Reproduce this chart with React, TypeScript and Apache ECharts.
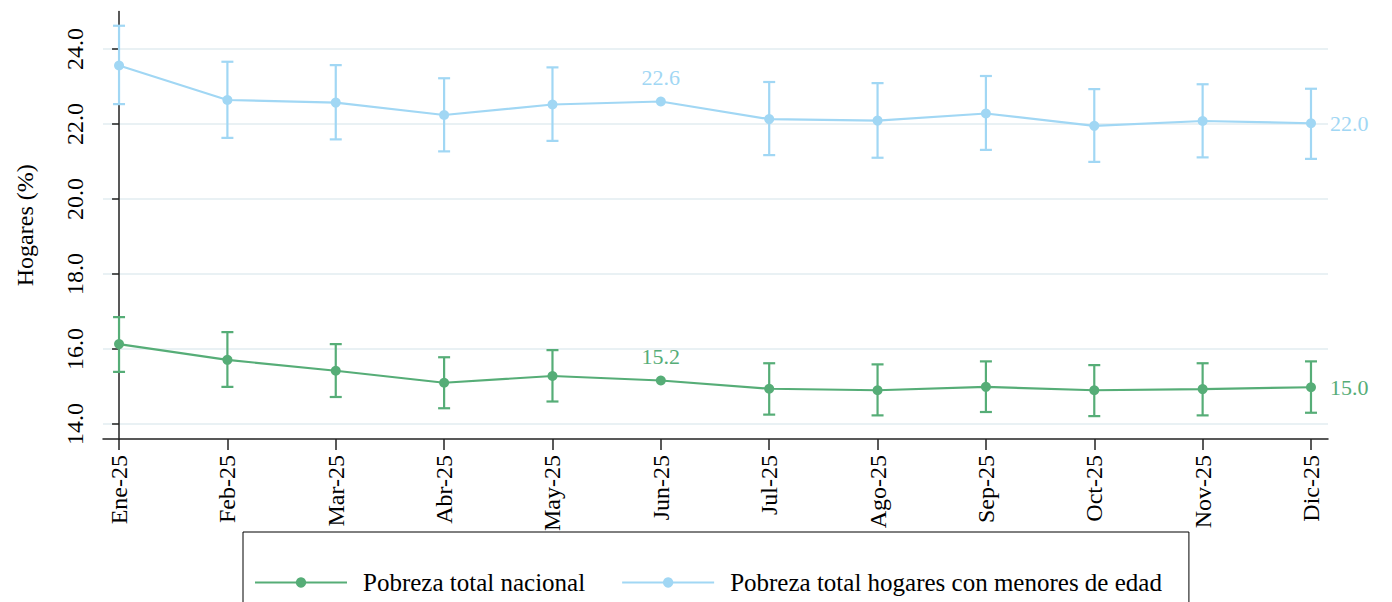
import React, { useEffect, useRef } from "react";
import * as echarts from "echarts";

const categories = ["Ene-25", "Feb-25", "Mar-25", "Abr-25", "May-25", "Jun-25", "Jul-25", "Ago-25", "Sep-25", "Oct-25", "Nov-25", "Dic-25"];
const yTicks = [14, 16, 18, 20, 22, 24];

const nacionalName = "Pobreza total nacional";
const nacional = [16.13, 15.71, 15.42, 15.1, 15.28, 15.16, 14.94, 14.9, 14.99, 14.9, 14.93, 14.98];
const nacionalLow = [15.39, 14.99, 14.72, 14.42, 14.6, null, 14.25, 14.23, 14.32, 14.21, 14.23, 14.3];
const nacionalHigh = [16.85, 16.45, 16.13, 15.78, 15.97, null, 15.62, 15.59, 15.67, 15.57, 15.62, 15.67];

const menoresName = "Pobreza total hogares con menores de edad";
const menores = [23.56, 22.64, 22.57, 22.24, 22.52, 22.6, 22.13, 22.09, 22.28, 21.95, 22.08, 22.02];
const menoresLow = [22.53, 21.63, 21.59, 21.27, 21.55, null, 21.17, 21.1, 21.31, 20.99, 21.11, 21.07];
const menoresHigh = [24.62, 23.66, 23.57, 23.22, 23.51, null, 23.12, 23.09, 23.28, 22.93, 23.06, 22.94];

const labelledIndex = [5, 11];

const GREEN = "#56ad77";
const BLUE = "#a1d7f4";
const FONT = "'Liberation Serif', 'Times New Roman', serif";

function lineData(values: number[], color: string) {
  return values.map((v, i) => {
    const item: any = { value: [i, v] };
    if (labelledIndex.includes(i)) {
      item.label = {
        show: true,
        position: i === categories.length - 1 ? "right" : "top",
        distance: i === categories.length - 1 ? 14 : 8,
        color,
        fontSize: 22,
        fontFamily: FONT,
        formatter: (p: any) => p.value[1].toFixed(1),
      };
    }
    return item;
  });
}

function errData(low: (number | null)[], high: (number | null)[]) {
  const out: any[] = [];
  low.forEach((l, i) => {
    const h = high[i];
    if (l !== null && h !== null) out.push([i, l, h]);
  });
  return out;
}

function errSeries(name: string, data: any[], color: string) {
  return {
    type: "custom",
    name,
    z: 1,
    silent: true,
    color,
    renderItem: (params: any, api: any) => {
      const x = api.value(0);
      const top = api.coord([x, api.value(2)]);
      const bot = api.coord([x, api.value(1)]);
      const w = 6;
      const style = { stroke: color, lineWidth: 2.2, fill: "none" };
      return {
        type: "group",
        children: [
          { type: "line", shape: { x1: top[0], y1: top[1], x2: bot[0], y2: bot[1] }, style },
          { type: "line", shape: { x1: top[0] - w, y1: top[1], x2: top[0] + w, y2: top[1] }, style },
          { type: "line", shape: { x1: bot[0] - w, y1: bot[1], x2: bot[0] + w, y2: bot[1] }, style },
        ],
      };
    },
    data,
  };
}

export default function App() {
  const ref = useRef<HTMLDivElement>(null);
  useEffect(() => {
    if (!ref.current) return;
    const chart = echarts.init(ref.current, null, { renderer: "svg" });
    chart.setOption({
      animation: false,
      backgroundColor: "#ffffff",
      textStyle: { fontFamily: FONT },
      grid: { left: 103, right: 64, top: 11.5, bottom: 163, containLabel: false },
      legend: {
        left: 243,
        top: 532,
        orient: "horizontal",
        borderColor: "#000000",
        borderWidth: 1,
        padding: [38, 27, 38, 11],
        itemWidth: 92,
        itemHeight: 13,
        itemGap: 36,
        data: [nacionalName, menoresName],
        textStyle: { fontSize: 25, fontFamily: FONT, color: "#000", padding: [0, 0, 0, 11] },
      },
      xAxis: {
        type: "value",
        min: -0.148,
        max: 11.157,
        axisLine: { show: true, lineStyle: { color: "#222", width: 1.5 } },
        axisTick: { show: true, length: 11, customValues: categories.map((_, i) => i), lineStyle: { color: "#222", width: 1.5 } },
        axisLabel: {
          customValues: categories.map((_, i) => i),
          formatter: (v: number) => categories[Math.round(v)] ?? "",
          rotate: 90,
          margin: 16,
          fontSize: 24,
          fontFamily: FONT,
          color: "#000",
        },
        splitLine: { show: false },
      },
      yAxis: {
        type: "value",
        min: 13.6,
        max: 25,
        name: "Hogares (%)",
        nameLocation: "middle",
        nameGap: 66,
        nameTextStyle: { fontSize: 24, fontFamily: FONT, color: "#000" },
        axisLine: { show: true, lineStyle: { color: "#222", width: 1.5 } },
        axisTick: { show: true, length: 7, customValues: yTicks, lineStyle: { color: "#222", width: 1.5 } },
        axisLabel: {
          customValues: yTicks,
          formatter: (v: number) => v.toFixed(1),
          rotate: 90,
          margin: 16,
          fontSize: 24,
          fontFamily: FONT,
          color: "#000",
        },
        splitLine: { show: true, lineStyle: { color: "#e9f1f4", width: 2 } },
      },
      series: [
        errSeries("err-nacional", errData(nacionalLow, nacionalHigh), GREEN),
        errSeries("err-menores", errData(menoresLow, menoresHigh), BLUE),
        {
          type: "line",
          name: nacionalName,
          data: lineData(nacional, GREEN),
          color: GREEN,
          symbol: "circle",
          symbolSize: 10,
          lineStyle: { color: GREEN, width: 2.2 },
          itemStyle: { color: GREEN },
          z: 3,
        },
        {
          type: "line",
          name: menoresName,
          data: lineData(menores, BLUE),
          color: BLUE,
          symbol: "circle",
          symbolSize: 10,
          lineStyle: { color: BLUE, width: 2.2 },
          itemStyle: { color: BLUE },
          z: 3,
        },
      ],
    });
    return () => chart.dispose();
  }, []);
  return (
    <div
      ref={ref}
      style={{ position: "fixed", left: 0, top: 0, width: 1392, height: 602, background: "#fff" }}
    />
  );
}
